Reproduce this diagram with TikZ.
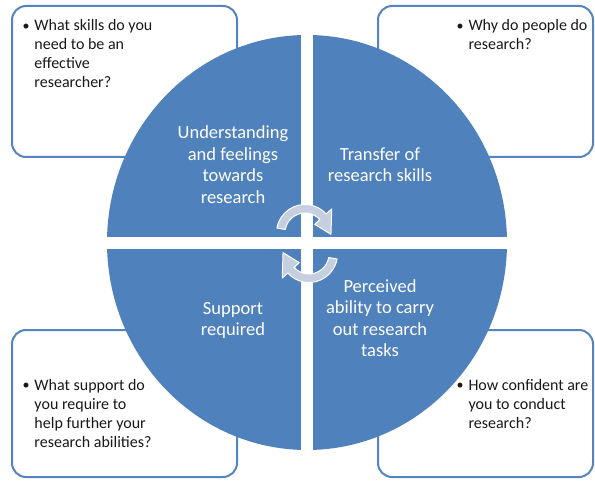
\documentclass[tikz,border=0pt]{standalone}
\usepackage{fontspec}
\setmainfont{Carlito}
\definecolor{qblue}{RGB}{79,129,189}
\definecolor{boxline}{RGB}{84,133,192}
\definecolor{arrowgrey}{RGB}{198,207,224}
\newcommand{\bul}{\makebox[11.8pt][l]{\raisebox{0.6pt}{\fontsize{14}{14}\selectfont\textbullet}}}
\begin{document}
\begin{tikzpicture}[x=1pt,y=1pt,
  qbox/.style={draw=boxline, line width=2pt, rounded corners=14pt, fill=white},
  quadrant/.style={fill=qblue},
  boxtext/.style={anchor=base west, inner sep=0pt, font=\fontsize{16}{19}\selectfont, text=black!90},
  quadtext/.style={anchor=base, inner sep=0pt, font=\fontsize{18.5}{21.5}\selectfont, text=white},
  cyclearrow/.style={fill=arrowgrey, draw=white, line width=1pt, line join=round}]
\useasboundingbox (0,0) rectangle (595,483);
\fill[white] (0,0) rectangle (595,483);

% question boxes behind the circle
\draw[qbox] (12,326) rectangle (237,477);
\draw[qbox] (378,326) rectangle (593,477);
\draw[qbox] (12,6) rectangle (237,153);
\draw[qbox] (378,6) rectangle (593,153);

% four quadrants of the circle, split by a white cross
\begin{scope}
  \clip (307,240.5) ellipse [x radius=200, y radius=207.5];
  \fill[quadrant] (100,246) rectangle (301,450);
  \fill[quadrant] (313,246) rectangle (515,450);
  \fill[quadrant] (100,234) rectangle (301,30);
  \fill[quadrant] (313,234) rectangle (515,30);
\end{scope}

% circular arrows in the middle
\begin{scope}[shift={(305,250)}]
  \path[cyclearrow] (170:28.5) arc[start angle=170, end angle=42, radius=28.5]
    -- (42:36) -- (-3:26) -- (42:13) -- (42:20)
    arc[start angle=42, end angle=170, radius=20] -- cycle;
\end{scope}
\begin{scope}[shift={(309,229)}, rotate=180]
  \path[cyclearrow] (170:28.5) arc[start angle=170, end angle=42, radius=28.5]
    -- (42:36) -- (-3:26) -- (42:13) -- (42:20)
    arc[start angle=42, end angle=170, radius=20] -- cycle;
\end{scope}

% quadrant labels
\node[quadtext] (understanding) at (233,344) {\begin{tabular}[t]{@{}c@{}}Understanding\\and feelings\\towards\\research\end{tabular}};
\node[quadtext] (transfer) at (380,322.5) {\begin{tabular}[t]{@{}c@{}}Transfer of\\research skills\end{tabular}};
\node[quadtext] (support) at (233,169) {\begin{tabular}[t]{@{}c@{}}Support\\required\end{tabular}};
\node[quadtext] (perceived) at (380,190.5) {\begin{tabular}[t]{@{}c@{}}Perceived\\ability to carry\\out research\\tasks\end{tabular}};

% questions
\node[boxtext] (skills) at (22.5,452.3) {\begin{tabular}[t]{@{}l@{}l@{}}\bul&What skills do you\\&need to be an\\&effective\\&researcher?\end{tabular}};
\node[boxtext] (why) at (456.5,452.3) {\begin{tabular}[t]{@{}l@{}l@{}}\bul&Why do people do\\&research?\end{tabular}};
\node[boxtext] (supportq) at (22.5,93) {\begin{tabular}[t]{@{}l@{}l@{}}\bul&What support do\\&you require to\\&help further your\\&research abilities?\end{tabular}};
\node[boxtext] (confident) at (456.5,92.5) {\begin{tabular}[t]{@{}l@{}l@{}}\bul&How confident are\\&you to conduct\\&research?\end{tabular}};
\end{tikzpicture}
\end{document}
